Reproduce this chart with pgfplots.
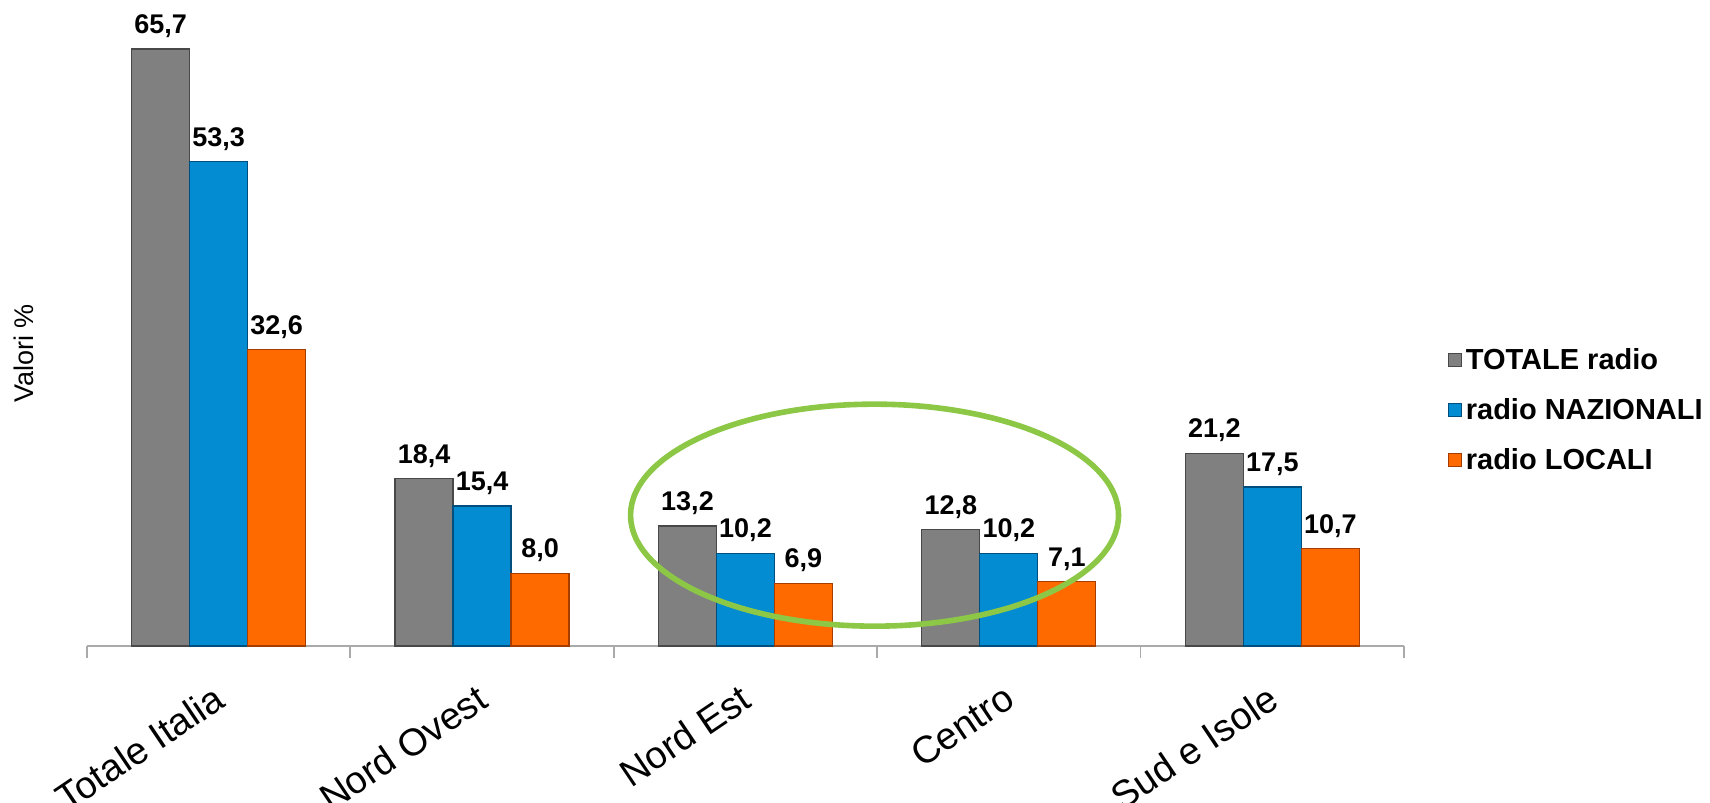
\documentclass[border=0pt]{standalone}
\usepackage{pgfplots}
\pgfplotsset{compat=1.18}
\usepackage{fontspec}
\setmainfont{Liberation Sans}

\definecolor{cgray}{RGB}{128,128,128}
\definecolor{cgrayd}{RGB}{72,72,72}
\definecolor{cblue}{RGB}{3,140,210}
\definecolor{cblued}{RGB}{0,78,125}
\definecolor{corange}{RGB}{255,106,0}
\definecolor{coranged}{RGB}{165,60,0}
\definecolor{cgreen}{RGB}{140,200,70}
\definecolor{caxis}{RGB}{170,170,170}

\pgfplotstableread{
x tot naz loc
0 65.7 53.3 32.6
1 18.4 15.4 8.0
2 13.2 10.2 6.9
3 12.8 10.2 7.1
4 21.2 17.5 10.7
}\datatable

\begin{document}
\begin{tikzpicture}
\useasboundingbox (-43.5pt,-78.5pt) rectangle (811.5pt,323pt);
\begin{axis}[
  at={(0,0)}, anchor=south west,
  scale only axis, width=658.5pt, height=318pt,
  xmin=-0.5, xmax=4.5, ymin=0, ymax=70,
  clip=false,
  ybar=0pt, bar width=29pt,
  axis x line*=bottom, axis y line*=left,
  x axis line style={draw=caxis, line width=0.9pt},
  y axis line style={draw=none},
  xtick={0,...,4},
  xticklabels={Totale Italia, Nord Ovest, Nord Est, Centro, Sud e Isole},
  major tick length=0pt,
  minor xtick={-0.5,0.5,1.5,2.5,3.5,4.5},
  minor tick length=6pt, tick align=outside,
  minor tick style={draw=caxis, line width=0.9pt},
  xticklabel style={rotate=34, anchor=north east, font=\fontsize{19}{22}\selectfont, inner sep=0pt, yshift=-13pt, xshift=-13pt},
  ytick=\empty,
  ylabel={Valori \%},
  ylabel style={at={(rel axis cs:-0.048,0.46)}, anchor=center, font=\fontsize{13.5}{16}\selectfont},
  nodes near coords,
  every node near coord/.append style={font=\bfseries\fontsize{13.5}{16}\selectfont, text=black, yshift=2pt},
  /pgf/number format/.cd, fixed, fixed zerofill, precision=1, use comma, assume math mode=true,
  /pgfplots/.cd,
  legend style={at={(1.033,0.475)}, anchor=north west, draw=none, fill=none,
    font=\bfseries\fontsize{14.5}{17}\selectfont, row sep=9pt, inner sep=0pt,
    /tikz/every even column/.append style={column sep=0pt}},
  legend cell align=left,
]
\addplot[fill=cgray, draw=cgrayd, line width=0.6pt,
  legend image code/.code={\draw[fill=cgray, draw=cgrayd, line width=0.5pt] (0pt,-3.25pt) rectangle (6.5pt,3.25pt);}]
  table[x=x, y=tot] {\datatable};
\addlegendentry{TOTALE radio}
\addplot[fill=cblue, draw=cblued, line width=0.6pt,
  legend image code/.code={\draw[fill=cblue, draw=cblued, line width=0.5pt] (0pt,-3.25pt) rectangle (6.5pt,3.25pt);}]
  table[x=x, y=naz] {\datatable};
\addlegendentry{radio NAZIONALI}
\addplot[fill=corange, draw=coranged, line width=0.6pt,
  legend image code/.code={\draw[fill=corange, draw=coranged, line width=0.5pt] (0pt,-3.25pt) rectangle (6.5pt,3.25pt);}]
  table[x=x, y=loc] {\datatable};
\addlegendentry{radio LOCALI}
\draw[cgreen, line width=2.8pt] (axis cs:2.49,14.4) ellipse [x radius=122pt, y radius=55.5pt];
\end{axis}
\end{tikzpicture}
\end{document}
